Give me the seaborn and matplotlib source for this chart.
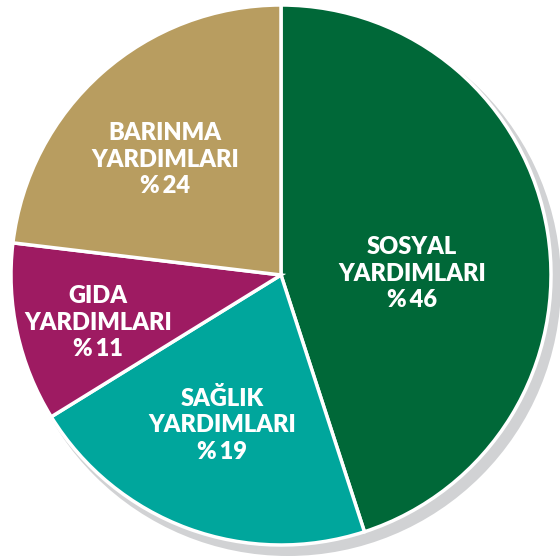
import numpy as np
import matplotlib
matplotlib.use('Agg')
import matplotlib.pyplot as plt
import seaborn as sns
from matplotlib.patches import Circle

# veriler
categories = ['SOSYAL\nYARDIMLARI', 'SAĞLIK\nYARDIMLARI', 'GIDA\nYARDIMLARI', 'BARINMA\nYARDIMLARI']
percent_labels = [46, 19, 11, 24]
slice_shares = [45.0, 21.2, 10.7, 23.1]  # dilim büyüklükleri
colors = ['#006838', '#00a69c', '#9e1b62', '#b89d60']

sns.set_theme(style='white')
plt.rcParams['font.family'] = ['Lato', 'DejaVu Sans']

fig = plt.figure(figsize=(5.6, 5.58), dpi=100)
ax = fig.add_axes([0, 0, 1, 1])

# gölge
ax.add_patch(Circle((7 / 270, -8 / 270), 273 / 270, color='#d1d2d4', zorder=0, lw=0))

wedges, _ = ax.pie(slice_shares, colors=colors, startangle=90, counterclock=False, radius=1,
                   wedgeprops=dict(edgecolor='white', linewidth=2.5))
for w in wedges:
    w.set_zorder(2)

# etiket konumları (piksel -> veri)
label_px = [(412, 274), (222, 425), (98, 323), (165, 160)]
for name, pct, (px, py) in zip(categories, percent_labels, label_px):
    ax.text((px - 281) / 270, (275 - py) / 270, f'{name}\n%\u2009{pct}', ha='center', va='center',
            color='white', fontsize=17, fontweight='heavy', linespacing=1.25, zorder=3)

ax.set_xlim(-281 / 270, 279 / 270)
ax.set_ylim(-283 / 270, 275 / 270)
ax.set_aspect('auto')
ax.axis('off')

plt.savefig('out.png', dpi=100)
